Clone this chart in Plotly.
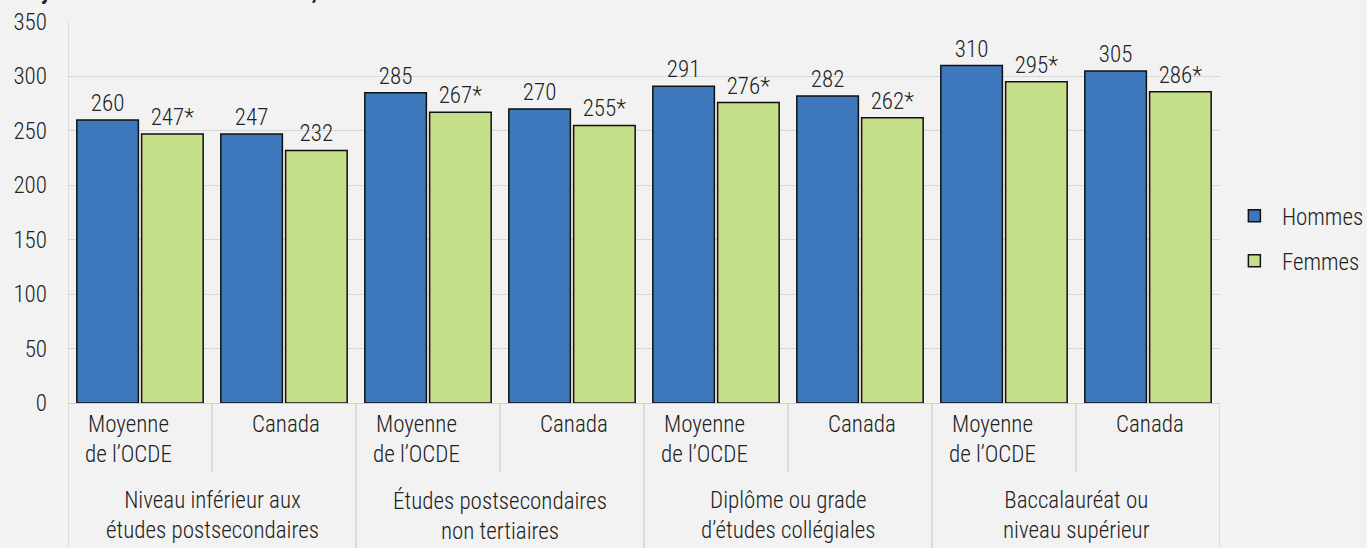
import plotly.graph_objects as go

# ---- data ----
groupes = ["Niveau inférieur aux<br>études postsecondaires",
           "Études postsecondaires<br>non tertiaires",
           "Diplôme ou grade<br>d’études collégiales",
           "Baccalauréat ou<br>niveau supérieur"]
sous_categories = ["Moyenne<br>de l’OCDE", "Canada"]
hommes = [260, 247, 285, 270, 291, 282, 310, 305]
femmes = [247, 232, 267, 255, 276, 262, 295, 286]
femmes_etiquettes = ["247*", "232", "267*", "255*", "276*", "262*", "295*", "286*"]
hommes_etiquettes = [str(v) for v in hommes]
y_ticks = [0, 50, 100, 150, 200, 250, 300, 350]
titre = "Moyenne des scores en littératie, 2012"

FONT = "Roboto Condensed, Liberation Sans Narrow, DejaVu Sans Condensed, Arial Narrow, sans-serif"
BLUE = "#3D77BC"
GREEN = "#C5DE88"
BG = "#F2F2F2"
LINE = "#CFCFCF"
TXT = "#222222"
FS = 23
W = 300


def f(size=FS, weight=W):
    return dict(size=size, color=TXT, family=FONT, weight=weight)


n = len(hommes)
xs = list(range(n))

fig = go.Figure()
fig.add_trace(go.Bar(x=xs, y=hommes, name="Hommes", marker=dict(color=BLUE, line=dict(color="#111", width=1.5)),
                     text=hommes_etiquettes, textposition="outside", cliponaxis=False,
                     textfont=f(), legendgroup="h"))
fig.add_trace(go.Bar(x=xs, y=femmes, name="Femmes", marker=dict(color=GREEN, line=dict(color="#111", width=1.5)),
                     text=femmes_etiquettes, textposition="outside", cliponaxis=False,
                     textfont=f(), legendgroup="f"))

annotations = []
shapes = []
for i in xs:
    sub = sous_categories[i % 2]
    annotations.append(dict(x=i, y=-0.015, xref="x", yref="paper", text=sub, showarrow=False,
                            yanchor="top", xanchor="center", xshift=-12 if i % 2 == 0 else 2,
                            font=f()))
for g, lab in enumerate(groupes):
    annotations.append(dict(x=2 * g + 0.5, y=-0.215, xref="x", yref="paper", text=lab, showarrow=False,
                            yanchor="top", xanchor="center", font=f()))
annotations.append(dict(x=-0.05, y=1.04, xref="paper", yref="paper", text="<b>" + titre + "</b>",
                        showarrow=False, xanchor="left", yanchor="bottom", font=f(weight=700)))

for b in range(n + 1):
    xb = b - 0.5
    y1 = -0.4 if b % 2 == 0 else -0.18
    shapes.append(dict(type="line", xref="x", yref="paper", x0=xb, x1=xb, y0=0, y1=y1,
                       line=dict(color=LINE, width=1.3)))
shapes.append(dict(type="line", xref="x", yref="paper", x0=-0.5, x1=-0.5, y0=0, y1=1,
                   line=dict(color=LINE, width=1.3)))

fig.update_layout(
    width=1367, height=548,
    margin=dict(l=68, r=147, t=22, b=145),
    paper_bgcolor=BG, plot_bgcolor=BG,
    font=f(),
    barmode="group", bargap=0.1, bargroupgap=0.05,
    showlegend=True,
    legend=dict(xref="container", yref="container", x=0.8975, y=0.565, xanchor="left", yanchor="middle",
                bgcolor="rgba(0,0,0,0)", font=f(), tracegroupgap=12, traceorder="grouped", itemwidth=45),
    annotations=annotations,
    shapes=shapes,
)
fig.update_xaxes(range=[-0.5, n - 0.5], showticklabels=False, showgrid=False, zeroline=False,
                 showline=False, ticks="", fixedrange=True, automargin=False)
fig.update_yaxes(range=[0, 350], tickvals=y_ticks, showgrid=True, gridcolor="#D6D6D6", gridwidth=1,
                 zeroline=True, zerolinecolor=LINE, zerolinewidth=1.3, showline=False, automargin=False,
                 ticks="", ticklabelstandoff=20, tickfont=f(), fixedrange=True)

fig.write_html("out.html", config={"displayModeBar": False},
               post_script="document.body.style.margin='0';document.body.style.background='#F2F2F2';")
